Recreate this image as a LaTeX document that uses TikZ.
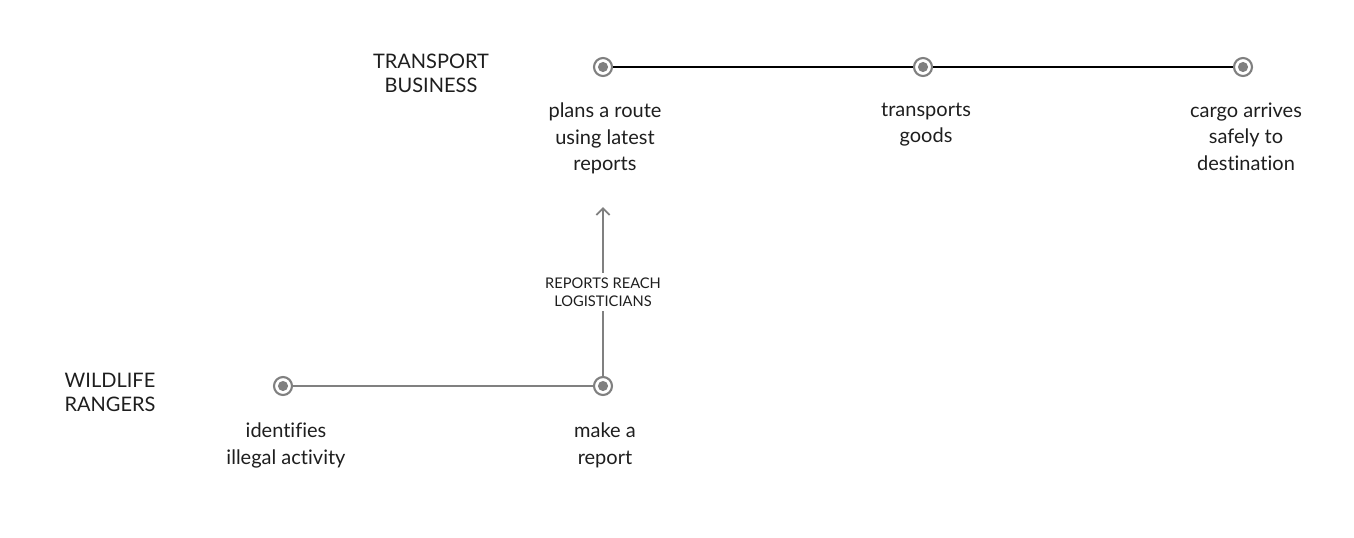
\documentclass[tikz,border=0pt]{standalone}
\usepackage{fontspec}
\setmainfont{Lato}[Ligatures=NoCommon]
\usetikzlibrary{arrows.meta}
\definecolor{dotgray}{RGB}{128,128,128}
\definecolor{txt}{RGB}{30,30,30}
\tikzset{
  dot/.style={circle,draw=dotgray,line width=1.6pt,fill=white,minimum size=13.5pt,inner sep=0pt,
    path picture={\fill[dotgray] (path picture bounding box.center) circle (3.8pt);}},
  lbl/.style={align=center,text=txt,font=\fontsize{15}{20}\selectfont,anchor=north},
  lane/.style={align=center,text=txt,font=\fontsize{15}{18}\selectfont},
  small/.style={align=center,text=txt,font=\fontsize{11}{13.5}\selectfont},
}
\begin{document}
\begin{tikzpicture}[x=0.75pt,y=-0.75pt]
\useasboundingbox (0,0) rectangle (1354,537);
% lane labels
\node[lane] (tb) at (431,73) {TRANSPORT\\BUSINESS};
\node[lane] (wr) at (110,392) {WILDLIFE\\RANGERS};
% dots
\node[dot] (t1) at (603,67) {};
\node[dot] (t2) at (923,67) {};
\node[dot] (t3) at (1243,67) {};
\node[dot] (w1) at (283,386) {};
\node[dot] (w2) at (603,386) {};
% connectors
\draw[black,line width=0.8pt] (t1) -- (t2);
\draw[black,line width=0.8pt] (t2) -- (t3);
\draw[dotgray,line width=1.4pt] (w1) -- (w2);
% labels
\node[lbl] (l1) at (605,98) {plans a route\\using latest\\reports};
\node[lbl] (l2) at (926,98) {transports\\goods};
\node[lbl] (l3) at (1246,98) {cargo arrives\\safely to\\destination};
\node[lbl] (l4) at (286,418) {identifies\\illegal activity};
\node[lbl] (l5) at (605,418) {make a\\report};
% vertical link
\node[small] (rr) at (603,292) {REPORTS REACH\\LOGISTICIANS};
\coordinate (tip) at (603,207);
\draw[dotgray,line width=1.4pt] (w2) -- (rr.south);
\draw[dotgray,line width=1.4pt,-{Straight Barb[length=5pt,width=10pt]}] (rr.north) -- (tip);
\end{tikzpicture}
\end{document}
